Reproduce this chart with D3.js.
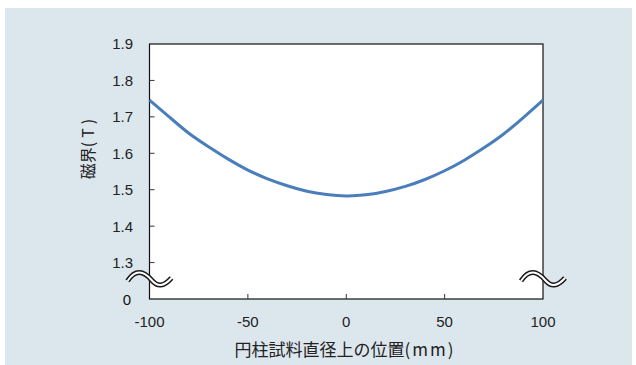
<!DOCTYPE html>
<html>
<head>
<meta charset="utf-8">
<script src="https://cdn.jsdelivr.net/npm/d3@7"></script>
<style>
  body { margin: 0; background: #ffffff; }
  text { font-family: "Liberation Sans", "Noto Sans", sans-serif; }
  .cjk { font-family: "Noto Sans CJK JP", sans-serif; }
</style>
</head>
<body>
<div id="chart"></div>
<script>
// position along the cylinder diameter (mm)
const positions = [-100, -90, -80, -70, -60, -50, -40, -30, -20, -10, 0, 10, 20, 30, 40, 50, 60, 70, 80, 90, 100];
// magnetic field (T)
const fieldValues = [1.746, 1.700, 1.655, 1.618, 1.584, 1.554, 1.530, 1.511, 1.496, 1.487, 1.483, 1.486, 1.495, 1.509, 1.528, 1.552, 1.581, 1.615, 1.653, 1.698, 1.746];
const xTicks = [-100, -50, 0, 50, 100];
const yTicks = [1.3, 1.4, 1.5, 1.6, 1.7, 1.8, 1.9];
const yBreakLabel = "0";

const width = 636, height = 365;
const margin = { left: 149.5, right: 93, top: 44, bottom: 66 };

const svg = d3.select("#chart").append("svg").attr("width", width).attr("height", height);

svg.append("rect").attr("x", 5).attr("y", 8).attr("width", 627).attr("height", 357).attr("fill", "#dce6ed");

const x = d3.scaleLinear().domain([-100, 100]).range([margin.left, width - margin.right]);
const y = d3.scaleLinear().domain([1.2, 1.9]).range([height - margin.bottom, margin.top]);

// plot area
svg.append("rect")
  .attr("x", x(-100)).attr("y", y(1.9))
  .attr("width", x(100) - x(-100)).attr("height", y(1.2) - y(1.9))
  .attr("fill", "#ffffff").attr("stroke", "#111").attr("stroke-width", 1.2);

// y ticks
svg.selectAll(".ytick").data(yTicks.filter(d => d < 1.9)).enter().append("line")
  .attr("x1", x(-100)).attr("x2", x(-100) + 5)
  .attr("y1", d => y(d)).attr("y2", d => y(d))
  .attr("stroke", "#333").attr("stroke-width", 1);

svg.selectAll(".ylab").data(yTicks).enter().append("text")
  .attr("x", 133).attr("y", d => y(d)).attr("dy", "0.36em")
  .attr("text-anchor", "end").attr("font-size", 15).attr("fill", "#222")
  .text(d => d.toFixed(1));

svg.append("text")
  .attr("x", 131).attr("y", y(1.2)).attr("dy", "0.4em")
  .attr("text-anchor", "end").attr("font-size", 15).attr("fill", "#111")
  .text(yBreakLabel);

// x ticks
svg.selectAll(".xtick").data(xTicks.filter(d => d > -100 && d < 100)).enter().append("line")
  .attr("x1", d => x(d)).attr("x2", d => x(d))
  .attr("y1", y(1.2)).attr("y2", y(1.2) - 5)
  .attr("stroke", "#333").attr("stroke-width", 1);

svg.selectAll(".xlab").data(xTicks).enter().append("text")
  .attr("x", d => x(d)).attr("y", 322).attr("dy", "0.36em")
  .attr("text-anchor", "middle").attr("font-size", 15).attr("fill", "#222")
  .text(d => d);

// curve
const line = d3.line().x((d, i) => x(positions[i])).y(d => y(d)).curve(d3.curveNatural);
svg.append("path").datum(fieldValues)
  .attr("d", line).attr("fill", "none")
  .attr("stroke", "#4a7ebb").attr("stroke-width", 3);

// axis break marks
function breakMark(cx) {
  const cy = y(1.255);
  const p = d3.path();
  p.moveTo(cx - 22, cy + 2);
  p.bezierCurveTo(cx - 14, cy - 10, cx - 6, cy - 8, cx + 2, cy + 1);
  p.bezierCurveTo(cx + 8, cy + 8, cx + 14, cy + 8, cx + 22, cy - 1);
  return p.toString();
}
[-100, 100].forEach(v => {
  svg.append("path").attr("d", breakMark(x(v))).attr("fill", "none")
    .attr("stroke", "#1a1a1a").attr("stroke-width", 5).attr("stroke-linecap", "butt");
  svg.append("path").attr("d", breakMark(x(v))).attr("fill", "none")
    .attr("stroke", "#ffffff").attr("stroke-width", 2).attr("stroke-linecap", "butt");
});

// axis titles
const xTitle = svg.append("text").attr("class", "cjk")
  .attr("x", 345).attr("y", 350).attr("dy", "0.36em")
  .attr("text-anchor", "middle").attr("font-size", 17).attr("fill", "#222");
xTitle.append("tspan").text("円柱試料直径上の位置");
xTitle.append("tspan").attr("letter-spacing", 2).text("(mm)");

const yTitle = svg.append("text").attr("class", "cjk")
  .attr("transform", "translate(88,147) rotate(-90)")
  .attr("dy", "0.36em")
  .attr("text-anchor", "middle").attr("font-size", 16).attr("fill", "#222");
yTitle.append("tspan").text("磁界");
yTitle.append("tspan").attr("letter-spacing", 4).text("(T)");
</script>
</body>
</html>
